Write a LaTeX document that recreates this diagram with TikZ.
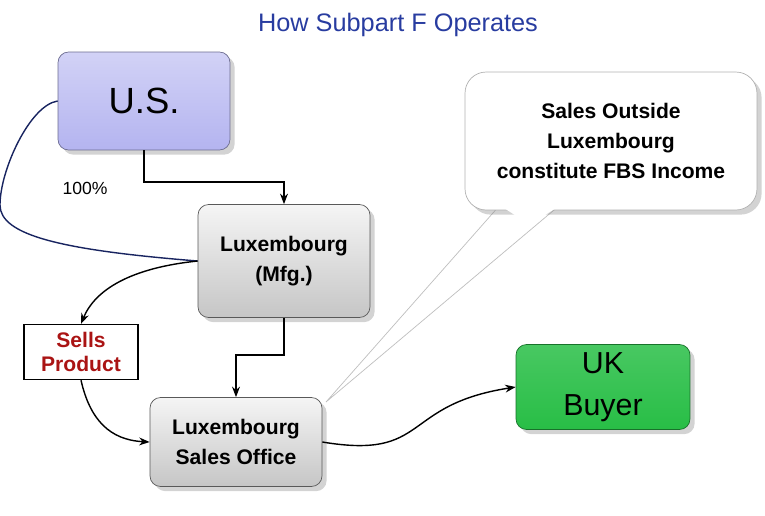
\documentclass[tikz,border=0pt]{standalone}
\usepackage{fontspec}
\setmainfont{Liberation Sans}
\usetikzlibrary{positioning,shadows,arrows.meta}
\definecolor{titleblue}{RGB}{40,60,160}
\definecolor{usfill}{RGB}{180,180,240}
\definecolor{ukfill}{RGB}{40,190,70}
\definecolor{sellred}{RGB}{170,20,20}
\tikzset{
  box/.style={draw=gray!70!black, rounded corners=6pt, minimum width=3.44cm,
    top color=gray!8, bottom color=gray!45, drop shadow={opacity=.35},
    align=center, font=\bfseries\large},
  link/.style={-{Stealth[length=6pt]}, thick},
}
\begin{document}
\begin{tikzpicture}[x=0.02cm,y=-0.02cm]
\useasboundingbox (0,0) rectangle (765,515);
% ------ title -------------------
\node[titleblue, font=\Large] (title) at (398,25) {How Subpart F Operates};
% ------ entities -------------------
\node[box, top color=usfill!60, bottom color=usfill, draw=usfill!60!black,
      minimum height=1.96cm, font=\huge] (us) at (144,101) {U.S.};
\node[font=\normalsize] (pct) at (85,188) {100\%};
\node[box, minimum height=2.26cm] (mfg) at (284,261) {Luxembourg\\[3pt](Mfg.)};
\node[box, minimum height=1.78cm] (sales) at (236,442) {Luxembourg\\[3pt]Sales Office};
\node[box, top color=ukfill!85, bottom color=ukfill, draw=ukfill!60!black,
      minimum width=3.48cm, minimum height=1.7cm, font=\LARGE] (uk) at (603,387) {UK\\[2pt]Buyer};
\node[draw, thick, minimum width=2.28cm, minimum height=1.1cm, align=center,
      text=sellred, font=\bfseries\large] (sell) at (81,352) {Sells\\Product};
% ------ callout -------------------
\coordinate (tip) at (326,402);
\filldraw[fill=white, draw=gray!50] (500,205) -- (tip) -- (560,205);
\node[box, top color=white, bottom color=white, draw=gray!60, minimum width=5.84cm,
      minimum height=2.76cm, rounded corners=12pt] (note) at (611,141)
      {Sales Outside\\[3pt]Luxembourg\\[3pt]constitute FBS Income};
\fill[white] (501,206) -- (559,206) -- (530,225) -- cycle;
% ------ connectors -------------------
\draw[link] (us.south) |- (284,182) -- (mfg.north);
\draw[thick, titleblue!60!black] (us.west) .. controls (30,105) and (0,170) .. (0,205)
   .. controls (0,235) and (60,250) .. (mfg.west);
\draw[link] (mfg.west) .. controls (130,268) and (95,290) .. (sell.north);
\draw[link] (sell.south) .. controls (90,420) and (110,440) .. (sales.west);
\coordinate (turn) at (284,355);
\draw[link] (mfg.south) -- (turn) -| (sales.north);
\draw[link] (sales.east) .. controls (430,460) and (400,405) .. (uk.west);
\end{tikzpicture}
\end{document}
